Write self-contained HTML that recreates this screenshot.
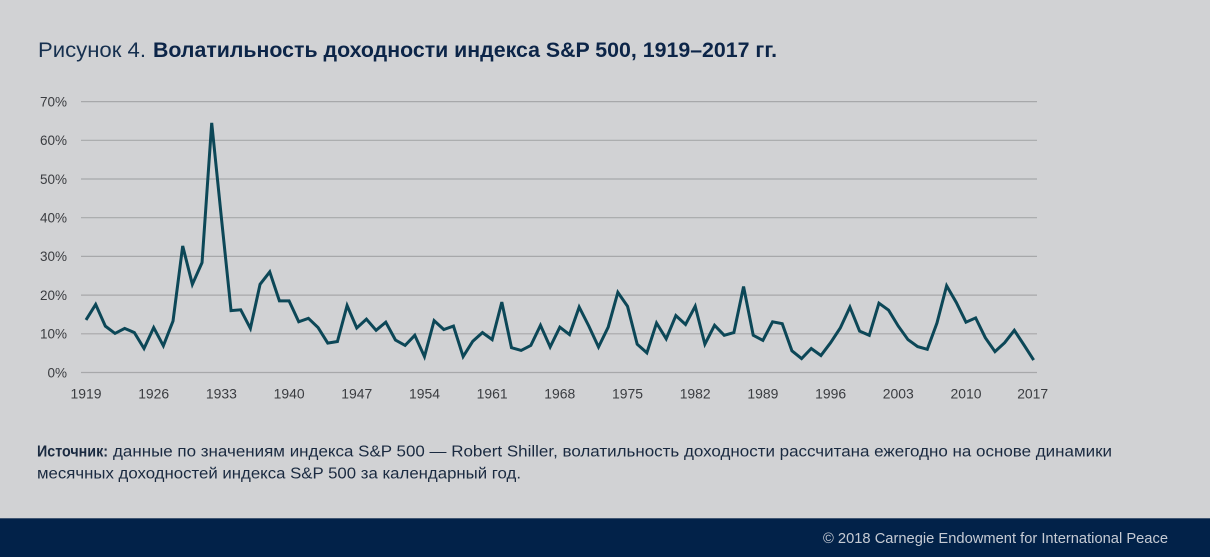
<!DOCTYPE html>
<html>
<head>
<meta charset="utf-8">
<style>
  html, body { margin:0; padding:0; background:#d1d2d4; }
  body { width:1210px; height:557px; overflow:hidden; }
  svg { display:block; }
  text { font-family: "Liberation Sans", "DejaVu Sans", sans-serif; }
</style>
</head>
<body>
<svg width="1210" height="557" viewBox="0 0 1210 557" xmlns="http://www.w3.org/2000/svg">
  <rect x="0" y="0" width="1210" height="557" fill="#d1d2d4"/>

  <!-- Title -->
  <text x="38" y="57" font-size="21.5" fill="#16304f" textLength="108" lengthAdjust="spacingAndGlyphs">Рисунок 4.</text>
  <text x="153" y="57" font-size="21.5" font-weight="bold" fill="#0c2548" textLength="624" lengthAdjust="spacingAndGlyphs">Волатильность доходности индекса S&amp;P 500, 1919–2017 гг.</text>

  <!-- Gridlines -->
  <g stroke="#a7a8aa" stroke-width="1.2">
    <line x1="81" y1="101.6" x2="1037" y2="101.6"/>
    <line x1="81" y1="140.3" x2="1037" y2="140.3"/>
    <line x1="81" y1="179.0" x2="1037" y2="179.0"/>
    <line x1="81" y1="217.7" x2="1037" y2="217.7"/>
    <line x1="81" y1="256.4" x2="1037" y2="256.4"/>
    <line x1="81" y1="295.1" x2="1037" y2="295.1"/>
    <line x1="81" y1="333.8" x2="1037" y2="333.8"/>
    <line x1="81" y1="372.5" x2="1037" y2="372.5"/>
  </g>

  <!-- Y labels -->
  <g font-size="13.5" fill="#3a3c40" text-anchor="end">
    <text x="67" y="106.4">70%</text>
    <text x="67" y="145.1">60%</text>
    <text x="67" y="183.8">50%</text>
    <text x="67" y="222.5">40%</text>
    <text x="67" y="261.2">30%</text>
    <text x="67" y="299.9">20%</text>
    <text x="67" y="338.6">10%</text>
    <text x="67" y="377.3">0%</text>
  </g>

  <!-- X labels -->
  <g font-size="14" fill="#3a3c40" text-anchor="middle">
    <text x="86" y="398.5" textLength="31" lengthAdjust="spacingAndGlyphs">1919</text>
    <text x="153.7" y="398.5" textLength="31" lengthAdjust="spacingAndGlyphs">1926</text>
    <text x="221.4" y="398.5" textLength="31" lengthAdjust="spacingAndGlyphs">1933</text>
    <text x="289.1" y="398.5" textLength="31" lengthAdjust="spacingAndGlyphs">1940</text>
    <text x="356.8" y="398.5" textLength="31" lengthAdjust="spacingAndGlyphs">1947</text>
    <text x="424.5" y="398.5" textLength="31" lengthAdjust="spacingAndGlyphs">1954</text>
    <text x="492.1" y="398.5" textLength="31" lengthAdjust="spacingAndGlyphs">1961</text>
    <text x="559.8" y="398.5" textLength="31" lengthAdjust="spacingAndGlyphs">1968</text>
    <text x="627.5" y="398.5" textLength="31" lengthAdjust="spacingAndGlyphs">1975</text>
    <text x="695.2" y="398.5" textLength="31" lengthAdjust="spacingAndGlyphs">1982</text>
    <text x="762.9" y="398.5" textLength="31" lengthAdjust="spacingAndGlyphs">1989</text>
    <text x="830.6" y="398.5" textLength="31" lengthAdjust="spacingAndGlyphs">1996</text>
    <text x="898.3" y="398.5" textLength="31" lengthAdjust="spacingAndGlyphs">2003</text>
    <text x="966" y="398.5" textLength="31" lengthAdjust="spacingAndGlyphs">2010</text>
    <text x="1032.7" y="398.5" textLength="31" lengthAdjust="spacingAndGlyphs">2017</text>
  </g>

  <!-- Series -->
  <polyline fill="none" stroke="#0c4757" stroke-width="3" stroke-linejoin="miter" stroke-miterlimit="4" points="
86.0,319.9 95.67,304.4 105.34,326.1 115.01,333.4 124.68,328.4 134.35,332.6 144.02,348.5 153.69,327.6 163.36,345.8 173.03,321.0
182.7,246.0 192.37,284.3 202.04,262.6 211.71,122.9 221.38,217.7 231.05,310.6 240.72,309.8 250.39,328.4 260.06,284.3 269.73,271.9
279.4,300.9 289.07,300.9 298.74,321.8 308.41,318.3 318.08,327.6 327.75,343.1 337.42,341.5 347.09,305.5 356.76,328.0 366.43,319.1
376.1,330.3 385.77,322.2 395.44,340.0 405.11,345.4 414.78,335.3 424.45,356.6 434.12,320.6 443.79,329.5 453.46,326.1 463.13,356.6
472.8,341.2 482.47,332.6 492.14,339.6 501.81,302.1 511.48,347.7 521.15,350.4 530.82,345.4 540.49,325.3 550.16,347.0 559.83,327.2
569.5,334.6 579.17,307.1 588.84,326.1 598.51,347.0 608.18,327.2 617.85,292.4 627.52,306.3 637.19,344.2 646.86,352.8 656.53,323.0
666.2,338.8 675.87,315.6 685.54,324.5 695.21,306.3 704.88,344.2 714.55,325.3 724.22,335.3 733.89,332.6 743.56,286.6 753.23,335.3
762.9,340.4 772.57,321.8 782.24,323.7 791.91,350.8 801.58,358.6 811.25,348.5 820.92,355.5 830.59,342.7 840.26,328.0 849.93,307.1
859.6,331.1 869.27,335.3 878.94,303.2 888.61,310.2 898.28,326.1 907.95,339.6 917.62,346.6 927.29,349.3 936.96,323.0 946.63,285.8
956.3,302.5 965.97,322.2 975.64,317.9 985.31,337.7 994.98,351.6 1004.65,342.7 1014.32,330.3 1023.99,345.0 1033.66,360.1"/>

  <!-- Source -->
  <text x="37" y="456.5" font-size="15.5" fill="#1a2a40" font-weight="bold" textLength="71" lengthAdjust="spacingAndGlyphs">Источник:</text>
  <text x="113" y="456.5" font-size="15.5" fill="#1a2a40" textLength="999" lengthAdjust="spacingAndGlyphs">данные по значениям индекса S&amp;P 500 — Robert Shiller, волатильность доходности рассчитана ежегодно на основе динамики</text>
  <text x="37" y="478.5" font-size="15.5" fill="#1a2a40" textLength="484" lengthAdjust="spacingAndGlyphs">месячных доходностей индекса S&amp;P 500 за календарный год.</text>

  <!-- Footer band -->
  <rect x="0" y="518.3" width="1210" height="38.7" fill="#022249"/>
  <text x="823" y="543" font-size="15" fill="#c6cbd4" textLength="345" lengthAdjust="spacingAndGlyphs">© 2018 Carnegie Endowment for International Peace</text>
</svg>
</body>
</html>
